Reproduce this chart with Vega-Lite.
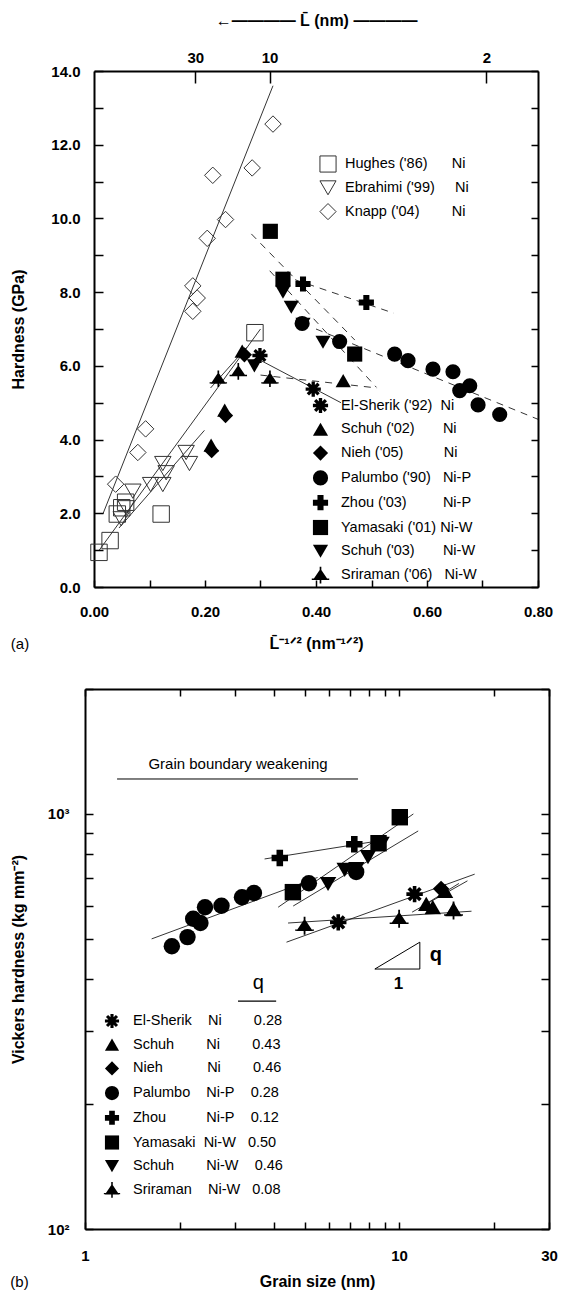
{
  "$schema": "https://vega.github.io/schema/vega-lite/v6.json",
  "background": "white",
  "padding": {"left": 10, "top": 12, "right": 10, "bottom": 4},
  "config": {
    "view": {"stroke": null},
    "font": "Liberation Sans",
    "axis": {"grid": false, "domainColor": "black", "domainWidth": 2, "tickColor": "black", "tickWidth": 1.5, "labelColor": "black", "titleColor": "black", "labelFont": "Liberation Sans", "titleFont": "Liberation Sans", "labelFontSize": 15, "labelFontWeight": "bold", "titleFontSize": 16, "titleFontWeight": "bold", "labelOverlap": false, "labelFlush": false},
    "legend": {"labelFont": "Liberation Sans", "labelColor": "black", "labelFontSize": 14.5, "padding": 0}
  },
  "datasets": {
    "fitsA_solid": [
      {"fit": "Knapp", "x": 0.016, "h": 1.98}, {"fit": "Knapp", "x": 0.3225, "h": 13.6},
      {"fit": "Hughes", "x": 0.009, "h": 0.99}, {"fit": "Hughes", "x": 0.30, "h": 7.0},
      {"fit": "Ebrahimi", "x": 0.045, "h": 1.6}, {"fit": "Ebrahimi", "x": 0.199, "h": 4.25},
      {"fit": "Sriraman", "x": 0.21, "h": 5.4}, {"fit": "Sriraman", "x": 0.275, "h": 6.5},
      {"fit": "ElSherik", "x": 0.30, "h": 6.15}, {"fit": "ElSherik", "x": 0.445, "h": 5.0}
    ],
    "fitsA_dashed": [
      {"fit": "Yamasaki", "x": 0.2835, "h": 9.58}, {"fit": "Yamasaki", "x": 0.47, "h": 6.7},
      {"fit": "Schuh03", "x": 0.3166, "h": 8.58}, {"fit": "Schuh03", "x": 0.5087, "h": 5.42},
      {"fit": "Zhou", "x": 0.34, "h": 8.45}, {"fit": "Zhou", "x": 0.54, "h": 7.43},
      {"fit": "Palumbo", "x": 0.40, "h": 7.0}, {"fit": "Palumbo", "x": 0.80, "h": 4.55},
      {"fit": "Schuh02", "x": 0.30, "h": 5.75}, {"fit": "Schuh02", "x": 0.51, "h": 5.4}
    ],
    "openA": [
      {"series": "Hughes", "x": 0.009, "h": 0.94}, {"series": "Hughes", "x": 0.029, "h": 1.26}, {"series": "Hughes", "x": 0.042, "h": 1.98}, {"series": "Hughes", "x": 0.05, "h": 2.15}, {"series": "Hughes", "x": 0.057, "h": 2.3}, {"series": "Hughes", "x": 0.121, "h": 1.98}, {"series": "Hughes", "x": 0.29, "h": 6.9},
      {"series": "Ebrahimi", "x": 0.049, "h": 1.85}, {"series": "Ebrahimi", "x": 0.058, "h": 2.15}, {"series": "Ebrahimi", "x": 0.070, "h": 2.6}, {"series": "Ebrahimi", "x": 0.102, "h": 2.78}, {"series": "Ebrahimi", "x": 0.124, "h": 2.78}, {"series": "Ebrahimi", "x": 0.124, "h": 3.35}, {"series": "Ebrahimi", "x": 0.130, "h": 3.1}, {"series": "Ebrahimi", "x": 0.166, "h": 3.65}, {"series": "Ebrahimi", "x": 0.172, "h": 3.35},
      {"series": "Knapp", "x": 0.039, "h": 2.79}, {"series": "Knapp", "x": 0.079, "h": 3.65}, {"series": "Knapp", "x": 0.093, "h": 4.29}, {"series": "Knapp", "x": 0.178, "h": 7.48}, {"series": "Knapp", "x": 0.186, "h": 7.84}, {"series": "Knapp", "x": 0.178, "h": 8.17}, {"series": "Knapp", "x": 0.204, "h": 9.46}, {"series": "Knapp", "x": 0.214, "h": 11.17}, {"series": "Knapp", "x": 0.237, "h": 9.97}, {"series": "Knapp", "x": 0.285, "h": 11.37}, {"series": "Knapp", "x": 0.3225, "h": 12.56}
    ],
    "filledA": [
      {"series": "ElSherik", "x": 0.299, "h": 6.28}, {"series": "ElSherik", "x": 0.395, "h": 5.37},
      {"series": "Schuh02", "x": 0.211, "h": 3.85}, {"series": "Schuh02", "x": 0.2355, "h": 4.8}, {"series": "Schuh02", "x": 0.267, "h": 6.4}, {"series": "Schuh02", "x": 0.449, "h": 5.6},
      {"series": "Nieh", "x": 0.212, "h": 3.7}, {"series": "Nieh", "x": 0.237, "h": 4.65}, {"series": "Nieh", "x": 0.271, "h": 6.3},
      {"series": "Palumbo", "x": 0.375, "h": 7.15}, {"series": "Palumbo", "x": 0.4426, "h": 6.66}, {"series": "Palumbo", "x": 0.5417, "h": 6.32}, {"series": "Palumbo", "x": 0.5658, "h": 6.14}, {"series": "Palumbo", "x": 0.6108, "h": 5.91}, {"series": "Palumbo", "x": 0.6468, "h": 5.84}, {"series": "Palumbo", "x": 0.659, "h": 5.33}, {"series": "Palumbo", "x": 0.677, "h": 5.46}, {"series": "Palumbo", "x": 0.692, "h": 4.94}, {"series": "Palumbo", "x": 0.731, "h": 4.68},
      {"series": "Zhou", "x": 0.3766, "h": 8.22}, {"series": "Zhou", "x": 0.4907, "h": 7.72},
      {"series": "Yamasaki", "x": 0.3177, "h": 9.65}, {"series": "Yamasaki", "x": 0.3405, "h": 8.35}, {"series": "Yamasaki", "x": 0.4697, "h": 6.32},
      {"series": "Schuh03", "x": 0.289, "h": 6.0}, {"series": "Schuh03", "x": 0.3405, "h": 8.0}, {"series": "Schuh03", "x": 0.3555, "h": 7.59}, {"series": "Schuh03", "x": 0.3766, "h": 7.13}, {"series": "Schuh03", "x": 0.4126, "h": 6.64},
      {"series": "Sriraman", "x": 0.224, "h": 5.65}, {"series": "Sriraman", "x": 0.26, "h": 5.85}, {"series": "Sriraman", "x": 0.317, "h": 5.65}
    ],
    "pointsB": [
      {"series": "Palumbo", "d": 1.89, "hv": 480}, {"series": "Palumbo", "d": 2.12, "hv": 505}, {"series": "Palumbo", "d": 2.21, "hv": 559}, {"series": "Palumbo", "d": 2.33, "hv": 546}, {"series": "Palumbo", "d": 2.41, "hv": 596}, {"series": "Palumbo", "d": 2.72, "hv": 601}, {"series": "Palumbo", "d": 3.16, "hv": 630}, {"series": "Palumbo", "d": 3.45, "hv": 645}, {"series": "Palumbo", "d": 5.16, "hv": 681}, {"series": "Palumbo", "d": 7.3, "hv": 725},
      {"series": "Yamasaki", "d": 4.59, "hv": 648}, {"series": "Yamasaki", "d": 8.6, "hv": 850}, {"series": "Yamasaki", "d": 10.05, "hv": 982},
      {"series": "Zhou", "d": 4.17, "hv": 783}, {"series": "Zhou", "d": 7.2, "hv": 845},
      {"series": "Schuh03", "d": 5.94, "hv": 678}, {"series": "Schuh03", "d": 6.71, "hv": 733}, {"series": "Schuh03", "d": 7.31, "hv": 736}, {"series": "Schuh03", "d": 7.96, "hv": 787}, {"series": "Schuh03", "d": 8.79, "hv": 847},
      {"series": "ElSherik", "d": 6.4, "hv": 548}, {"series": "ElSherik", "d": 11.2, "hv": 641},
      {"series": "Schuh02", "d": 12.2, "hv": 607}, {"series": "Schuh02", "d": 12.8, "hv": 596}, {"series": "Schuh02", "d": 14.0, "hv": 653}, {"series": "Schuh02", "d": 14.9, "hv": 590},
      {"series": "Nieh", "d": 13.6, "hv": 660},
      {"series": "Sriraman", "d": 5.0, "hv": 538}, {"series": "Sriraman", "d": 10.0, "hv": 559}, {"series": "Sriraman", "d": 14.9, "hv": 585}
    ],
    "fitsB": [
      {"fit": "Palumbo", "d": 1.63, "hv": 500}, {"fit": "Palumbo", "d": 5.5, "hv": 703},
      {"fit": "Zhou", "d": 3.73, "hv": 779}, {"fit": "Zhou", "d": 8.5, "hv": 860},
      {"fit": "Yamasaki", "d": 4.12, "hv": 596}, {"fit": "Yamasaki", "d": 11.1, "hv": 1000},
      {"fit": "Schuh03", "d": 4.6, "hv": 600}, {"fit": "Schuh03", "d": 11.5, "hv": 910},
      {"fit": "ElSherik", "d": 4.38, "hv": 491}, {"fit": "ElSherik", "d": 17.4, "hv": 716},
      {"fit": "Sriraman", "d": 4.43, "hv": 546}, {"fit": "Sriraman", "d": 17.0, "hv": 583},
      {"fit": "Schuh02", "d": 11.0, "hv": 580}, {"fit": "Schuh02", "d": 16.5, "hv": 690},
      {"fit": "Nieh", "d": 12.3, "hv": 610}, {"fit": "Nieh", "d": 15.5, "hv": 680}
    ]
  },
  "vconcat": [
    {
      "hconcat": [
        {
          "width": 453,
          "height": 516,
          "title": {"text": "(a)", "orient": "bottom", "anchor": "start", "frame": "bounds", "fontSize": 15, "fontWeight": "normal", "font": "Liberation Sans", "offset": -14},
          "layer": [
            {
              "data": {"name": "fitsA_solid"},
              "mark": {"type": "line", "color": "black", "strokeWidth": 0.8},
              "encoding": {
                "x": {"field": "x", "type": "quantitative", "scale": {"domain": [0, 0.8], "range": [9, 453], "nice": false, "zero": false},
                  "axis": {"orient": "bottom", "values": [0, 0.1, 0.2, 0.3, 0.4, 0.5, 0.6, 0.7, 0.8], "labelExpr": "round(datum.value*10)%2==0 ? format(datum.value,'.2f') : ''", "tickSize": -7, "labelPadding": 24, "title": "L̄⁻¹ᐟ² (nm⁻¹ᐟ²)", "titlePadding": 16}},
                "y": {"field": "h", "type": "quantitative", "scale": {"domain": [0, 14], "nice": false, "zero": false},
                  "axis": {"orient": "left", "offset": -9, "values": [0, 1, 2, 3, 4, 5, 6, 7, 8, 9, 10, 11, 12, 13, 14], "labelExpr": "datum.value%2==0 ? format(datum.value,'.1f') : ''", "tickSize": -9, "labelPadding": 23, "title": "Hardness (GPa)", "titlePadding": 24}},
                "detail": {"field": "fit"}
              }
            },
            {
              "data": {"name": "fitsA_dashed"},
              "mark": {"type": "line", "color": "black", "strokeWidth": 0.8, "strokeDash": [7, 6]},
              "encoding": {
                "x": {"field": "x", "type": "quantitative", "scale": {"domain": [0, 0.8], "range": [9, 453], "nice": false, "zero": false}, "axis": null},
                "y": {"field": "h", "type": "quantitative", "scale": {"domain": [0, 14], "nice": false, "zero": false}, "axis": null},
                "detail": {"field": "fit"}
              }
            },
            {
              "data": {"name": "openA"},
              "mark": {"type": "point", "filled": false, "color": "#333333", "strokeWidth": 1, "size": 270, "opacity": 1},
              "encoding": {
                "x": {"field": "x", "type": "quantitative", "scale": {"domain": [0, 0.8], "range": [9, 453], "nice": false, "zero": false},
                  "axis": {"orient": "top", "values": [0.182574, 0.316228, 0.707107], "labelExpr": "datum.value<0.25 ? '30' : (datum.value<0.5 ? '10' : '2')", "tickSize": -12, "labelPadding": 18, "title": "←————   L̄ (nm)   ————", "titlePadding": 22}},
                "y": {"field": "h", "type": "quantitative", "scale": {"domain": [0, 14], "nice": false, "zero": false},
                  "axis": {"orient": "right", "values": [0, 1, 2, 3, 4, 5, 6, 7, 8, 9, 10, 11, 12, 13, 14], "labels": false, "tickSize": -7, "title": null}},
                "shape": {"field": "series", "type": "nominal",
                  "scale": {"domain": ["Hughes", "Ebrahimi", "Knapp"], "range": ["square", "triangle-down", "diamond"]},
                  "legend": {"orient": "none", "legendX": 234, "legendY": 84, "title": null, "symbolSize": 260, "symbolStrokeColor": "#333333", "symbolFillColor": "white", "symbolStrokeWidth": 1, "symbolOpacity": 1, "labelOffset": 8, "rowPadding": 3.8,
                    "labelExpr": "datum.label=='Hughes' ? \"Hughes ('86)\u00a0\u00a0\u00a0\u00a0\u00a0\u00a0Ni\" : (datum.label=='Ebrahimi' ? \"Ebrahimi ('99)\u00a0\u00a0\u00a0\u00a0\u00a0Ni\" : \"Knapp ('04)\u00a0\u00a0\u00a0\u00a0\u00a0\u00a0\u00a0\u00a0Ni\")"}}
              }
            },
            {
              "data": {"name": "filledA"},
              "mark": {"type": "point", "filled": true, "color": "black", "size": 230, "opacity": 1},
              "encoding": {
                "x": {"field": "x", "type": "quantitative", "scale": {"domain": [0, 0.8], "range": [9, 453], "nice": false, "zero": false}, "axis": null},
                "y": {"field": "h", "type": "quantitative", "scale": {"domain": [0, 14], "nice": false, "zero": false}, "axis": null},
                "shape": {"field": "series", "type": "nominal",
                  "scale": {"domain": ["ElSherik", "Schuh02", "Nieh", "Palumbo", "Zhou", "Yamasaki", "Schuh03", "Sriraman"],
                    "range": ["M-1,-0.22L1,-0.22L1,0.22L-1,0.22ZM-0.22,-1L0.22,-1L0.22,1L-0.22,1ZM-0.55,-0.86L0.86,0.55L0.55,0.86L-0.86,-0.55ZM-0.86,0.55L0.55,-0.86L0.86,-0.55L-0.55,0.86Z", "triangle-up", "diamond", "circle", "cross", "square", "triangle-down", "M0,-0.85L1,0.65L-1,0.65ZM-0.11,-1.1L0.11,-1.1L0.11,1.1L-0.11,1.1ZM-1.15,0.45L1.15,0.45L1.15,0.63L-1.15,0.63Z"]},
                  "legend": {"orient": "none", "legendX": 227, "legendY": 326, "title": null, "symbolSize": 230, "symbolFillColor": "black", "symbolStrokeColor": "black", "symbolOpacity": 1, "labelOffset": 12, "rowPadding": 1.8,
                    "labelExpr": "datum.label=='ElSherik' ? \"El-Sherik ('92)\u00a0\u00a0Ni\" : datum.label=='Schuh02' ? \"Schuh ('02)\u00a0\u00a0\u00a0\u00a0\u00a0\u00a0\u00a0Ni\" : datum.label=='Nieh' ? \"Nieh ('05)\u00a0\u00a0\u00a0\u00a0\u00a0\u00a0\u00a0\u00a0\u00a0\u00a0Ni\" : datum.label=='Palumbo' ? \"Palumbo ('90)\u00a0\u00a0\u00a0Ni-P\" : datum.label=='Zhou' ? \"Zhou ('03)\u00a0\u00a0\u00a0\u00a0\u00a0\u00a0\u00a0\u00a0\u00a0Ni-P\" : datum.label=='Yamasaki' ? \"Yamasaki ('01)\u00a0Ni-W\" : datum.label=='Schuh03' ? \"Schuh ('03)\u00a0\u00a0\u00a0\u00a0\u00a0\u00a0\u00a0Ni-W\" : \"Sriraman ('06)\u00a0\u00a0\u00a0Ni-W\""}}
              }
            }
          ],
          "resolve": {"scale": {"shape": "independent"}, "axis": {"x": "independent", "y": "independent"}}
        }
      ],
      "resolve": {"scale": {"shape": "independent"}}
    },
    {
      "hconcat": [
        {
          "width": 464,
          "height": 540,
          "title": {"text": "(b)", "orient": "bottom", "anchor": "start", "frame": "bounds", "fontSize": 15, "fontWeight": "normal", "font": "Liberation Sans", "offset": -14},
          "layer": [
            {
              "data": {"name": "fitsB"},
              "mark": {"type": "line", "color": "black", "strokeWidth": 0.8},
              "encoding": {
                "x": {"field": "d", "type": "quantitative", "scale": {"type": "log", "domain": [1, 30], "nice": false},
                  "axis": {"orient": "bottom", "values": [1, 2, 3, 4, 5, 6, 7, 8, 9, 10, 20, 30], "labelExpr": "datum.value==1 ? '1' : (datum.value==10 ? '10' : (datum.value==30 ? '30' : ''))", "tickSize": -7, "labelPadding": 26, "title": "Grain size (nm)", "titlePadding": 10}},
                "y": {"field": "hv", "type": "quantitative", "scale": {"type": "log", "domain": [100, 2000], "nice": false},
                  "axis": {"orient": "left", "values": [100, 200, 300, 400, 500, 600, 700, 800, 900, 1000, 2000], "labelExpr": "datum.value==100 ? '10²' : (datum.value==1000 ? '10³' : '')", "tickSize": -8, "labelPadding": 24, "title": "Vickers hardness (kg mm⁻²)", "titlePadding": 21}},
                "detail": {"field": "fit"}
              }
            },
            {
              "data": {"name": "pointsB"},
              "mark": {"type": "point", "filled": true, "color": "black", "size": 270, "opacity": 1},
              "encoding": {
                "x": {"field": "d", "type": "quantitative", "scale": {"type": "log", "domain": [1, 30], "nice": false},
                  "axis": {"orient": "top", "values": [1, 2, 3, 4, 5, 6, 7, 8, 9, 10, 20, 30], "labels": false, "tickSize": -7, "title": null}},
                "y": {"field": "hv", "type": "quantitative", "scale": {"type": "log", "domain": [100, 2000], "nice": false},
                  "axis": {"orient": "right", "values": [100, 200, 300, 400, 500, 600, 700, 800, 900, 1000, 2000], "labels": false, "tickSize": -8, "title": null}},
                "shape": {"field": "series", "type": "nominal",
                  "scale": {"domain": ["ElSherik", "Schuh02", "Nieh", "Palumbo", "Zhou", "Yamasaki", "Schuh03", "Sriraman"],
                    "range": ["M-1,-0.22L1,-0.22L1,0.22L-1,0.22ZM-0.22,-1L0.22,-1L0.22,1L-0.22,1ZM-0.55,-0.86L0.86,0.55L0.55,0.86L-0.86,-0.55ZM-0.86,0.55L0.55,-0.86L0.86,-0.55L-0.55,0.86Z", "triangle-up", "diamond", "circle", "cross", "square", "triangle-down", "M0,-0.85L1,0.65L-1,0.65ZM-0.11,-1.1L0.11,-1.1L0.11,1.1L-0.11,1.1ZM-1.15,0.45L1.15,0.45L1.15,0.63L-1.15,0.63Z"]},
                  "legend": {"orient": "none", "legendX": 19, "legendY": 324, "title": null, "symbolSize": 200, "symbolFillColor": "black", "symbolStrokeColor": "black", "symbolOpacity": 1, "labelOffset": 13, "rowPadding": 2.7,
                    "labelExpr": "datum.label=='ElSherik' ? 'El-Sherik\u00a0\u00a0\u00a0\u00a0Ni\u00a0\u00a0\u00a0\u00a0\u00a0\u00a0\u00a0\u00a00.28' : datum.label=='Schuh02' ? 'Schuh\u00a0\u00a0\u00a0\u00a0\u00a0\u00a0\u00a0\u00a0Ni\u00a0\u00a0\u00a0\u00a0\u00a0\u00a0\u00a0\u00a00.43' : datum.label=='Nieh' ? 'Nieh\u00a0\u00a0\u00a0\u00a0\u00a0\u00a0\u00a0\u00a0\u00a0\u00a0\u00a0Ni\u00a0\u00a0\u00a0\u00a0\u00a0\u00a0\u00a0\u00a00.46' : datum.label=='Palumbo' ? 'Palumbo\u00a0\u00a0\u00a0\u00a0Ni-P\u00a0\u00a0\u00a0\u00a00.28' : datum.label=='Zhou' ? 'Zhou\u00a0\u00a0\u00a0\u00a0\u00a0\u00a0\u00a0\u00a0\u00a0\u00a0Ni-P\u00a0\u00a0\u00a0\u00a00.12' : datum.label=='Yamasaki' ? 'Yamasaki\u00a0\u00a0Ni-W\u00a0\u00a0\u00a00.50' : datum.label=='Schuh03' ? 'Schuh\u00a0\u00a0\u00a0\u00a0\u00a0\u00a0\u00a0\u00a0Ni-W\u00a0\u00a0\u00a0\u00a00.46' : 'Sriraman\u00a0\u00a0\u00a0\u00a0Ni-W\u00a0\u00a0\u00a00.08'"}}
              }
            },
            {
              "data": {"values": [{}]},
              "mark": {"type": "rule", "color": "black", "strokeWidth": 1},
              "encoding": {
                "x": {"datum": 8.37, "type": "quantitative", "scale": {"type": "log", "domain": [1, 30], "nice": false}, "axis": null},
                "x2": {"datum": 11.64},
                "y": {"datum": 423, "type": "quantitative", "scale": {"type": "log", "domain": [100, 2000], "nice": false}, "axis": null},
                "y2": {"datum": 491}
              }
            },
            {
              "data": {"values": [{}]},
              "mark": {"type": "rule", "color": "black", "strokeWidth": 1},
              "encoding": {
                "x": {"datum": 8.37, "type": "quantitative", "scale": {"type": "log", "domain": [1, 30], "nice": false}, "axis": null},
                "x2": {"datum": 11.64},
                "y": {"datum": 423, "type": "quantitative", "scale": {"type": "log", "domain": [100, 2000], "nice": false}, "axis": null}
              }
            },
            {
              "data": {"values": [{}]},
              "mark": {"type": "rule", "color": "black", "strokeWidth": 1},
              "encoding": {
                "x": {"datum": 11.64, "type": "quantitative", "scale": {"type": "log", "domain": [1, 30], "nice": false}, "axis": null},
                "y": {"datum": 423, "type": "quantitative", "scale": {"type": "log", "domain": [100, 2000], "nice": false}, "axis": null},
                "y2": {"datum": 491}
              }
            },
            {
              "data": {"values": [{}]},
              "mark": {"type": "rule", "color": "black", "strokeWidth": 1},
              "encoding": {
                "x": {"datum": 1.265, "type": "quantitative", "scale": {"type": "log", "domain": [1, 30], "nice": false}, "axis": null},
                "x2": {"datum": 7.4},
                "y": {"datum": 1214, "type": "quantitative", "scale": {"type": "log", "domain": [100, 2000], "nice": false}, "axis": null}
              }
            },
            {
              "data": {"values": [{}]},
              "mark": {"type": "rule", "color": "black", "strokeWidth": 1.2},
              "encoding": {
                "x": {"datum": 3.07, "type": "quantitative", "scale": {"type": "log", "domain": [1, 30], "nice": false}, "axis": null},
                "x2": {"datum": 4.06},
                "y": {"datum": 354, "type": "quantitative", "scale": {"type": "log", "domain": [100, 2000], "nice": false}, "axis": null}
              }
            },
            {
              "data": {"values": [{}]},
              "mark": {"type": "text", "fontSize": 15, "font": "Liberation Sans", "color": "black", "align": "center", "baseline": "middle"},
              "encoding": {
                "x": {"datum": 3.07, "type": "quantitative", "scale": {"type": "log", "domain": [1, 30], "nice": false}, "axis": null},
                "y": {"datum": 1319, "type": "quantitative", "scale": {"type": "log", "domain": [100, 2000], "nice": false}, "axis": null},
                "text": {"value": "Grain boundary weakening"}
              }
            },
            {
              "data": {"values": [{}]},
              "mark": {"type": "text", "fontSize": 20, "font": "Liberation Sans", "color": "black", "align": "center", "baseline": "middle"},
              "encoding": {
                "x": {"datum": 3.56, "type": "quantitative", "scale": {"type": "log", "domain": [1, 30], "nice": false}, "axis": null},
                "y": {"datum": 392, "type": "quantitative", "scale": {"type": "log", "domain": [100, 2000], "nice": false}, "axis": null},
                "text": {"value": "q"}
              }
            },
            {
              "data": {"values": [{}]},
              "mark": {"type": "text", "fontSize": 20, "fontWeight": "bold", "font": "Liberation Sans", "color": "black", "align": "center", "baseline": "middle"},
              "encoding": {
                "x": {"datum": 13.1, "type": "quantitative", "scale": {"type": "log", "domain": [1, 30], "nice": false}, "axis": null},
                "y": {"datum": 456, "type": "quantitative", "scale": {"type": "log", "domain": [100, 2000], "nice": false}, "axis": null},
                "text": {"value": "q"}
              }
            },
            {
              "data": {"values": [{}]},
              "mark": {"type": "text", "fontSize": 17, "fontWeight": "bold", "font": "Liberation Sans", "color": "black", "align": "center", "baseline": "middle"},
              "encoding": {
                "x": {"datum": 9.95, "type": "quantitative", "scale": {"type": "log", "domain": [1, 30], "nice": false}, "axis": null},
                "y": {"datum": 389, "type": "quantitative", "scale": {"type": "log", "domain": [100, 2000], "nice": false}, "axis": null},
                "text": {"value": "1"}
              }
            }
          ],
          "resolve": {"axis": {"x": "independent", "y": "independent"}}
        }
      ],
      "resolve": {"scale": {"shape": "independent"}}
    }
  ],
  "resolve": {"scale": {"shape": "independent"}},
  "spacing": 30
}
